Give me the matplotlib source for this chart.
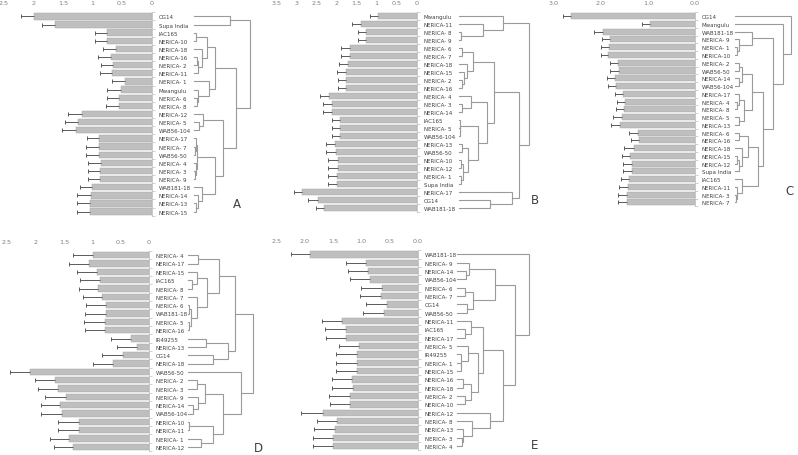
import matplotlib
matplotlib.use('Agg')
import matplotlib.pyplot as plt
from matplotlib.ticker import FixedLocator, FormatStrFormatter

# ---------------- data ----------------
# panel A
names_a = ['CG14', 'Supa India', 'IAC165', 'NERICA-10', 'NERICA-18', 'NERICA-16', 'NERICA- 2', 'NERICA-11',
           'NERICA- 1', 'Mwangulu', 'NERICA- 6', 'NERICA- 8', 'NERICA-12', 'NERICA- 5', 'WAB56-104',
           'NERICA-17', 'NERICA- 7', 'WAB56-50', 'NERICA- 4', 'NERICA- 3', 'NERICA- 9', 'WAB181-18',
           'NERICA-14', 'NERICA-13', 'NERICA-15']
vals_a = [1.98, 1.63, 0.75, 0.75, 0.60, 0.69, 0.65, 0.67, 0.45, 0.52, 0.55, 0.56, 1.18, 1.24, 1.28,
          0.89, 0.89, 0.89, 0.86, 0.87, 0.87, 1.00, 1.03, 1.05, 1.05]
errs_a = [0.22, 0.23, 0.21, 0.21, 0.23, 0.22, 0.21, 0.21, 0.22, 0.23, 0.21, 0.22, 0.23, 0.22, 0.23,
          0.21, 0.22, 0.22, 0.21, 0.21, 0.21, 0.21, 0.23, 0.22, 0.22]
# merges: (left, right, height); a string is a leaf, an int is an earlier merge
merges_a = [('IAC165', 'NERICA-10', 1.7), ('NERICA-16', 'NERICA- 2', 2.3), (1, 'NERICA-11', 4),
            ('NERICA-18', 2, 8), (0, 3, 13), ('NERICA- 6', 'NERICA- 8', 2.3), ('Mwangulu', 5, 4),
            ('NERICA- 1', 6, 15), (4, 7, 20.7), ('NERICA- 5', 'WAB56-104', 5), ('NERICA-12', 9, 9),
            ('NERICA- 7', 'WAB56-50', 0.7), ('NERICA-17', 11, 1.3), ('NERICA- 3', 'NERICA- 9', 0.7),
            ('NERICA- 4', 13, 1.3), (12, 14, 3), ('NERICA-13', 'NERICA-15', 1.7), ('NERICA-14', 16, 4),
            ('WAB181-18', 17, 7.3), (15, 18, 20.7), (10, 19, 28.3), (8, 20, 42),
            ('CG14', 'Supa India', 35.7), (22, 21, 55.7)]

# panel B
names_b = ['Mwangulu', 'NERICA-11', 'NERICA- 8', 'NERICA- 9', 'NERICA- 6', 'NERICA- 7', 'NERICA-18',
           'NERICA-15', 'NERICA- 2', 'NERICA-16', 'NERICA- 4', 'NERICA- 3', 'NERICA-14', 'IAC165',
           'NERICA- 5', 'WAB56-104', 'NERICA-13', 'WAB56-50', 'NERICA-10', 'NERICA-12', 'NERICA- 1',
           'Supa India', 'NERICA-17', 'CG14', 'WAB181-18']
vals_b = [0.96, 1.40, 1.27, 1.27, 1.68, 1.68, 1.73, 1.78, 1.77, 1.77, 2.19, 2.13, 2.12, 1.92, 1.91, 1.91,
          2.05, 2.03, 1.98, 1.98, 2.00, 2.00, 2.86, 2.48, 2.31]
errs_b = [0.21, 0.23, 0.21, 0.21, 0.22, 0.22, 0.22, 0.22, 0.21, 0.21, 0.23, 0.22, 0.22, 0.21, 0.22, 0.22,
          0.23, 0.24, 0.23, 0.23, 0.23, 0.23, 0.22, 0.23, 0.22]
merges_b = [('NERICA- 8', 'NERICA- 9', 1.3), ('NERICA-11', 0, 24), ('Mwangulu', 1, 43.3),
            ('NERICA- 6', 'NERICA- 7', 2.3), ('NERICA- 2', 'NERICA-16', 3), ('NERICA-15', 4, 5),
            ('NERICA-18', 5, 7.3), (3, 6, 13.3), ('NERICA- 3', 'NERICA-14', 2.3), ('NERICA- 4', 8, 11.7),
            ('NERICA- 5', 'WAB56-104', 0.3), ('IAC165', 10, 0.6), ('NERICA-13', 'WAB56-50', 2.3),
            ('NERICA-10', 'NERICA-12', 1.7), ('NERICA- 1', 'Supa India', 1.7), (13, 14, 4), (12, 15, 8.3),
            (11, 16, 18.3), (9, 17, 27.3), (7, 18, 35), ('CG14', 'WAB181-18', 30.5),
            ('NERICA-17', 20, 52.5), (19, 21, 60), (2, 22, 70)]

# panel C
names_c = ['CG14', 'Mwangulu', 'WAB181-18', 'NERICA- 9', 'NERICA- 1', 'NERICA-10', 'NERICA- 2', 'WAB56-50',
           'NERICA-14', 'WAB56-104', 'NERICA-17', 'NERICA- 4', 'NERICA- 8', 'NERICA- 5', 'NERICA-13',
           'NERICA- 6', 'NERICA-16', 'NERICA-18', 'NERICA-15', 'NERICA-12', 'Supa India', 'IAC165',
           'NERICA-11', 'NERICA- 3', 'NERICA- 7']
vals_c = [2.63, 0.95, 1.94, 1.81, 1.82, 1.84, 1.64, 1.62, 1.69, 1.67, 1.52, 1.48, 1.50, 1.55, 1.58,
          1.21, 1.18, 1.30, 1.37, 1.33, 1.34, 1.39, 1.43, 1.45, 1.45]
errs_c = [0.16, 0.18, 0.19, 0.17, 0.17, 0.16, 0.17, 0.18, 0.18, 0.18, 0.17, 0.18, 0.18, 0.19, 0.19,
          0.19, 0.18, 0.20, 0.17, 0.19, 0.19, 0.18, 0.18, 0.19, 0.19]
merges_c = [('NERICA- 1', 'NERICA-10', 1.7), ('NERICA- 9', 0, 4.3), ('WAB181-18', 1, 16.7),
            ('NERICA- 2', 'WAB56-50', 4), ('NERICA-14', 'WAB56-104', 4), (3, 4, 7.3),
            ('NERICA- 4', 'NERICA- 8', 2.3), ('NERICA-17', 6, 4.3), ('NERICA- 5', 'NERICA-13', 4.3),
            (7, 8, 9), (5, 9, 16.7), ('NERICA- 6', 'NERICA-16', 4.3), ('NERICA-15', 'NERICA-12', 2.3),
            (12, 'Supa India', 4.3), ('NERICA-18', 13, 6.7), (11, 14, 13.3), ('NERICA- 3', 'NERICA- 7', 1),
            ('NERICA-11', 16, 2.3), ('IAC165', 17, 6.7), (15, 18, 23.3), (10, 19, 27.7), (2, 20, 38.3),
            ('Mwangulu', 21, 48.3), ('CG14', 22, 56)]

# panel D
names_d = ['NERICA- 4', 'NERICA-17', 'NERICA-15', 'IAC165', 'NERICA- 8', 'NERICA- 7', 'NERICA- 6',
           'WAB181-18', 'NERICA- 5', 'NERICA-16', 'IR49255', 'NERICA-13', 'CG14', 'NERICA-18', 'WAB56-50',
           'NERICA- 2', 'NERICA- 3', 'NERICA- 9', 'NERICA-14', 'WAB56-104', 'NERICA-10', 'NERICA-11',
           'NERICA- 1', 'NERICA-12']
vals_d = [0.98, 1.05, 0.92, 0.86, 0.89, 0.82, 0.75, 0.75, 0.77, 0.77, 0.32, 0.21, 0.46, 0.63, 2.10,
          1.65, 1.60, 1.47, 1.56, 1.53, 1.24, 1.24, 1.41, 1.33]
errs_d = [0.35, 0.35, 0.35, 0.35, 0.35, 0.35, 0.36, 0.38, 0.37, 0.35, 0.35, 0.35, 0.36, 0.35, 0.35,
          0.35, 0.35, 0.36, 0.35, 0.38, 0.36, 0.36, 0.34, 0.35]
merges_d = [('NERICA- 4', 'NERICA-17', 10), ('IAC165', 'NERICA- 8', 3.3), ('NERICA-15', 1, 8.3),
            ('NERICA- 6', 'WAB181-18', 1), ('NERICA- 5', 'NERICA-16', 1), (3, 4, 2.7), ('NERICA- 7', 5, 9),
            (2, 6, 18.3), (0, 7, 31), ('IR49255', 'NERICA-13', 17.7), ('CG14', 'NERICA-18', 25),
            (9, 10, 40), (8, 11, 46.7), ('NERICA- 2', 'NERICA- 3', 8.3), ('NERICA-14', 'WAB56-104', 4.3),
            ('NERICA- 9', 14, 10), (13, 15, 16.7), ('NERICA-10', 'NERICA-11', 1),
            ('NERICA- 1', 'NERICA-12', 12.3), (17, 18, 24.3), (16, 19, 35), ('WAB56-50', 20, 52.3),
            (12, 21, 64.3)]

# panel E
names_e = ['WAB181-18', 'NERICA- 9', 'NERICA-14', 'WAB56-104', 'NERICA- 6', 'NERICA- 7', 'CG14', 'WAB56-50',
           'NERICA-11', 'IAC165', 'NERICA-17', 'NERICA- 5', 'IR49255', 'NERICA- 1', 'NERICA-15',
           'NERICA-16', 'NERICA-18', 'NERICA- 2', 'NERICA-10', 'NERICA-12', 'NERICA- 8', 'NERICA-13',
           'NERICA- 3', 'NERICA- 4']
vals_e = [1.90, 0.91, 0.88, 0.85, 0.63, 0.66, 0.55, 0.60, 1.34, 1.28, 1.27, 1.04, 1.08, 1.08, 1.08,
          1.16, 1.14, 1.21, 1.20, 1.67, 1.43, 1.46, 1.50, 1.50]
errs_e = [0.35, 0.36, 0.36, 0.36, 0.38, 0.36, 0.37, 0.37, 0.36, 0.37, 0.36, 0.36, 0.37, 0.36, 0.37,
          0.36, 0.38, 0.37, 0.35, 0.39, 0.35, 0.37, 0.36, 0.36]
merges_e = [('NERICA-14', 'WAB56-104', 9.3), ('NERICA- 9', 0, 12.7), ('NERICA- 6', 'NERICA- 7', 8.3),
            ('CG14', 'WAB56-50', 10), (2, 3, 16), (1, 4, 38.3), ('IAC165', 'NERICA-17', 8.3),
            ('NERICA-11', 6, 14), ('NERICA- 1', 'NERICA-15', 4), ('IR49255', 8, 4.7), ('NERICA- 5', 9, 11.7),
            ('NERICA-16', 'NERICA-18', 6), ('NERICA- 2', 'NERICA-10', 8.3), (11, 12, 14), (10, 13, 21.7),
            (7, 14, 26.7), ('NERICA- 3', 'NERICA- 4', 5), ('NERICA-13', 16, 6.7), ('NERICA- 8', 17, 15),
            ('NERICA-12', 18, 33.3), (15, 19, 46), (5, 20, 58.3), ('WAB181-18', 21, 72.7)]

W, H = 798, 456
fig = plt.figure(figsize=(W / 100, H / 100), dpi=100)
fig.patch.set_facecolor('white')


def rect(x0, y0, x1, y1):
    return [x0 / W, 1 - y1 / H, (x1 - x0) / W, (y1 - y0) / H]


def panel(names, vals, errs, merges, bar_box, leaf_x, root_h, xmax, step, fmt, letter, letter_xy):
    n = len(names)
    rows = list(range(n))
    x0, y0, x1, y1 = bar_box
    ax = fig.add_axes(rect(x0, y0, x1, y1))
    ax.barh(rows, vals, height=0.78, color='#bfbfbf', edgecolor='#a8a8a8', linewidth=0.35, zorder=2)
    ends = [v + e for v, e in zip(vals, errs)]
    ax.hlines(rows, vals, ends, colors='#5a5a5a', linewidth=0.7, zorder=3)
    ax.plot(ends, rows, ls='none', marker='|', ms=2.2, mew=0.7, color='#5a5a5a', zorder=3)
    ax.set_xlim(xmax, 0)
    ax.set_ylim(n - 0.5, -0.5)
    for s in ['left', 'top', 'bottom']:
        ax.spines[s].set_visible(False)
    ax.spines['right'].set_color('#bfbfbf')
    ax.spines['right'].set_linewidth(0.6)
    ax.xaxis.tick_top()
    ticks = [i * step for i in range(int(round(xmax / step)) + 1)]
    ax.set_xticks(ticks)
    ax.xaxis.set_major_formatter(FormatStrFormatter(fmt) if fmt else
                                 plt.FuncFormatter(lambda v, p: ('%g' % v)))
    ax.tick_params(axis='x', length=0, pad=5, labelsize=4.6, labelcolor='#7f7f7f')
    ax.yaxis.tick_right()
    ax.set_yticks(rows)
    ax.set_yticklabels(names)
    ax.tick_params(axis='y', which='major', length=0, pad=5, labelsize=4.0, labelcolor='#404040')
    ax.yaxis.set_minor_locator(FixedLocator([r - 0.5 for r in rows] + [n - 0.5]))
    ax.tick_params(axis='y', which='minor', length=2, width=0.5, color='#bfbfbf', direction='out')
    ax.set_facecolor('none')

    # dendrogram
    dx = fig.add_axes(rect(leaf_x, y0, leaf_x + root_h, y1))
    dx.set_xlim(0, root_h)
    dx.set_ylim(n - 0.5, -0.5)
    dx.axis('off')
    pos = {nm: i for i, nm in enumerate(names)}
    ys, hs = [], []
    for a, b, h in merges:
        ya, ha = (ys[a], hs[a]) if isinstance(a, int) else (pos[a], 0.0)
        yb, hb = (ys[b], hs[b]) if isinstance(b, int) else (pos[b], 0.0)
        dx.plot([ha, h, h, hb], [ya, ya, yb, yb], color='#9a9a9a', lw=0.8, clip_on=False,
                solid_joinstyle='miter')
        ys.append((ya + yb) / 2)
        hs.append(h)

    fig.text(letter_xy[0] / W, 1 - letter_xy[1] / H, letter, fontsize=8.5, color='#404040',
             ha='center', va='center')


panel(names_a, vals_a, errs_a, merges_a, (3.7, 13.3, 151.7, 216.7), 194.3, 55.7, 2.5, 0.5, None,
      'A', (237, 205))
panel(names_b, vals_b, errs_b, merges_b, (276.7, 13.3, 416.7, 213.3), 459.3, 70, 3.5, 0.5, None,
      'B', (535, 200))
panel(names_c, vals_c, errs_c, merges_c, (553.4, 13.3, 695, 207.3), 735, 56, 3.0, 1.0, '%.1f',
      'C', (790, 192))
panel(names_d, vals_d, errs_d, merges_d, (7, 252, 149, 452), 188.3, 64.3, 2.5, 0.5, None,
      'D', (258, 449))
panel(names_e, vals_e, errs_e, merges_e, (276.5, 251.3, 418, 451.3), 456.7, 72.7, 2.5, 0.5, '%.1f',
      'E', (535, 446))

fig.savefig('out.png', dpi=100)
